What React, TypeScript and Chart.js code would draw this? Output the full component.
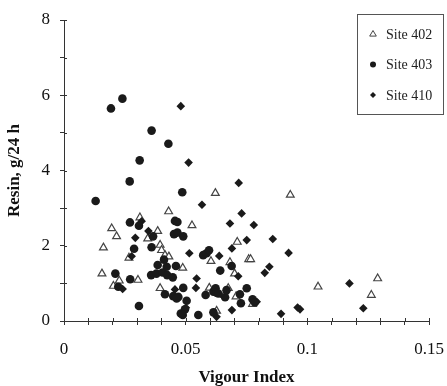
import React, { useEffect, useRef } from "react";
import { Chart, registerables } from "chart.js";

Chart.register(...registerables);

// Vigour index (x) against resin flow, g/24 h (y)
const site402: [number, number][] = [
  [0.0156, 1.26], [0.0162, 1.95], [0.0196, 2.46], [0.0216, 2.25], [0.0203, 0.93],
  [0.0227, 1.07], [0.0267, 1.68], [0.0304, 1.09], [0.0312, 2.75], [0.0344, 2.19],
  [0.0385, 2.39], [0.0395, 2.02], [0.0401, 1.88], [0.0415, 1.75], [0.0431, 1.71],
  [0.043, 2.91], [0.0395, 0.87], [0.0488, 1.41], [0.0526, 2.54], [0.0604, 1.59],
  [0.0622, 3.4], [0.0627, 0.27], [0.0597, 0.88], [0.0659, 0.69], [0.0675, 0.87],
  [0.0682, 1.56], [0.0701, 1.26], [0.0707, 0.65], [0.0712, 2.1], [0.0759, 1.64],
  [0.0767, 1.64], [0.0775, 0.45], [0.093, 3.35], [0.1044, 0.91], [0.1263, 0.69],
  [0.1289, 1.13],
];

const site403: [number, number][] = [
  [0.013, 3.19], [0.0193, 5.65], [0.024, 5.91], [0.027, 3.71], [0.0311, 4.27],
  [0.036, 5.06], [0.0429, 4.71], [0.0486, 3.42], [0.0271, 2.62], [0.0308, 2.53],
  [0.0366, 2.25], [0.0288, 1.92], [0.036, 1.96], [0.0456, 2.66], [0.0466, 2.63],
  [0.0452, 2.31], [0.0466, 2.35], [0.049, 2.25], [0.0411, 1.63], [0.0211, 1.26],
  [0.0223, 0.91], [0.0272, 1.11], [0.0308, 0.4], [0.0358, 1.22], [0.038, 1.26],
  [0.0385, 1.49], [0.0405, 1.29], [0.0424, 1.22], [0.046, 1.46], [0.0447, 1.16],
  [0.0415, 0.71], [0.0449, 0.66], [0.047, 0.64], [0.0463, 0.6], [0.049, 0.88],
  [0.0504, 0.54], [0.0497, 0.31], [0.048, 0.2], [0.0488, 0.16], [0.0552, 0.16],
  [0.0572, 1.75], [0.0586, 1.8], [0.0596, 1.88], [0.0642, 1.34], [0.0689, 1.46],
  [0.0582, 0.69], [0.0614, 0.78], [0.0623, 0.87], [0.0627, 0.75], [0.0634, 0.73],
  [0.0614, 0.23], [0.0662, 0.63], [0.0668, 0.82], [0.0723, 0.71], [0.0727, 0.47],
  [0.0751, 0.87], [0.0775, 0.58], [0.0784, 0.5], [0.0422, 1.44],
];

const site410: [number, number][] = [
  [0.048, 5.71], [0.0512, 4.21], [0.0718, 3.67], [0.0567, 3.09], [0.073, 2.86],
  [0.0682, 2.59], [0.0751, 2.15], [0.078, 2.55], [0.0858, 2.18], [0.0923, 1.81],
  [0.0844, 1.44], [0.0825, 1.28], [0.0319, 2.65], [0.0347, 2.39], [0.0293, 2.21],
  [0.0278, 1.72], [0.0241, 0.85], [0.0515, 1.8], [0.0638, 1.73], [0.069, 1.93],
  [0.0716, 1.19], [0.0545, 1.13], [0.0542, 0.88], [0.0456, 0.84], [0.0501, 0.35],
  [0.0627, 0.11], [0.069, 0.29], [0.0792, 0.51], [0.0892, 0.19], [0.096, 0.36],
  [0.097, 0.31], [0.1173, 1.0], [0.123, 0.34],
];

const seriesNames = ["Site 402", "Site 403", "Site 410"];
const xTickLabels = [0, 0.05, 0.1, 0.15];
const yTickLabels = [0, 2, 4, 6, 8];

const SERIF = "'Liberation Serif', 'Times New Roman', serif";
const INK = "#1a1a1a";

const toPoints = (arr: [number, number][]) => arr.map(([x, y]) => ({ x, y }));

function drawMarker(ctx: CanvasRenderingContext2D, kind: string, x: number, y: number, r: number) {
  ctx.save();
  ctx.beginPath();
  if (kind === "triangle") {
    ctx.moveTo(x, y - r);
    ctx.lineTo(x + r * 0.95, y + r * 0.6);
    ctx.lineTo(x - r * 0.95, y + r * 0.6);
    ctx.closePath();
    ctx.fillStyle = "#fff";
    ctx.fill();
    ctx.strokeStyle = "#444";
    ctx.lineWidth = 1;
    ctx.stroke();
  } else if (kind === "circle") {
    ctx.arc(x, y, r, 0, Math.PI * 2);
    ctx.fillStyle = INK;
    ctx.fill();
  } else {
    ctx.moveTo(x, y - r);
    ctx.lineTo(x + r, y);
    ctx.lineTo(x, y + r);
    ctx.lineTo(x - r, y);
    ctx.closePath();
    ctx.fillStyle = INK;
    ctx.fill();
  }
  ctx.restore();
}

// Short inner tick marks so each tick crosses its axis line
const innerTicks = {
  id: "innerTicks",
  afterDraw(chart: any) {
    const { ctx, chartArea, scales } = chart;
    ctx.save();
    ctx.strokeStyle = "#333";
    ctx.lineWidth = 1;
    for (const t of scales.x.ticks) {
      const px = Math.round(scales.x.getPixelForValue(t.value)) + 0.5;
      ctx.beginPath();
      ctx.moveTo(px, chartArea.bottom);
      ctx.lineTo(px, chartArea.bottom - 3);
      ctx.stroke();
    }
    for (const t of scales.y.ticks) {
      const py = Math.round(scales.y.getPixelForValue(t.value)) + 0.5;
      ctx.beginPath();
      ctx.moveTo(chartArea.left, py);
      ctx.lineTo(chartArea.left + 3, py);
      ctx.stroke();
    }
    ctx.restore();
  },
};

// Boxed legend in the upper-right corner of the plot
const boxLegend = {
  id: "boxLegend",
  afterDraw(chart: any) {
    const { ctx, chartArea } = chart;
    const right = chartArea.right + 14;
    const w = 86;
    const left = right - w;
    const top = chartArea.top - 6;
    const h = 100;
    ctx.save();
    ctx.strokeStyle = "#555";
    ctx.lineWidth = 1;
    ctx.strokeRect(Math.round(left) + 0.5, Math.round(top) + 0.5, w, h);
    const kinds = ["triangle", "circle", "diamond"];
    ctx.font = `14px ${SERIF}`;
    ctx.textBaseline = "middle";
    seriesNames.forEach((name, i) => {
      const cy = top + 21 + i * 30.5;
      drawMarker(ctx, kinds[i], left + 16, cy - 1, kinds[i] === "triangle" ? 3.5 : 3);
      ctx.fillStyle = "#222";
      ctx.fillText(name, left + 29, cy);
    });
    ctx.restore();
  },
};

export default function App() {
  const canvasRef = useRef<HTMLCanvasElement | null>(null);

  useEffect(() => {
    if (!canvasRef.current) return;
    const isLabelX = (v: number) => xTickLabels.some((t) => Math.abs(t - v) < 1e-6);
    const isLabelY = (v: number) => yTickLabels.some((t) => Math.abs(t - v) < 1e-6);

    const chart = new Chart(canvasRef.current, {
      type: "scatter",
      data: {
        datasets: [
          {
            label: seriesNames[1],
            data: toPoints(site403),
            pointStyle: "circle",
            pointRadius: 4.3,
            backgroundColor: INK,
            borderColor: INK,
            borderWidth: 0,
          },
          {
            label: seriesNames[2],
            data: toPoints(site410),
            pointStyle: "rectRot",
            pointRadius: 4.3,
            backgroundColor: INK,
            borderColor: INK,
            borderWidth: 0,
          },
          {
            label: seriesNames[0],
            data: toPoints(site402),
            pointStyle: "triangle",
            pointRadius: 4.5,
            backgroundColor: "#ffffff",
            borderColor: "#444",
            borderWidth: 1.2,
          },
        ],
      },
      options: {
        animation: false,
        responsive: true,
        maintainAspectRatio: false,
        layout: { padding: { top: 20, right: 18, left: 0, bottom: 0 } },
        plugins: {
          legend: { display: false },
          tooltip: { enabled: false },
        },
        scales: {
          x: {
            type: "linear",
            min: 0,
            max: 0.15,
            afterFit: (s: any) => {
              s.height = 65;
              s.paddingLeft = 0;
              s.paddingRight = 0;
            },
            ticks: {
              stepSize: 0.01,
              autoSkip: false,
              maxRotation: 0,
              padding: 14,
              color: "#111",
              font: { family: SERIF, size: 17 },
              callback: (v: any) => (isLabelX(Number(v)) ? String(Math.round(Number(v) * 100) / 100) : ""),
            },
            grid: { drawOnChartArea: false, drawTicks: true, tickLength: 4, color: "#333" },
            border: { display: true, color: "#333", width: 1 },
            title: {
              display: true,
              text: "Vigour Index",
              color: "#111",
              font: { family: SERIF, size: 17, weight: "bold" },
              padding: { top: 0, bottom: -2 },
            },
          },
          y: {
            type: "linear",
            min: 0,
            max: 8,
            afterFit: (s: any) => {
              s.width = 64;
              s.paddingTop = 0;
              s.paddingBottom = 0;
            },
            ticks: {
              stepSize: 1,
              autoSkip: false,
              padding: 10,
              color: "#111",
              font: { family: SERIF, size: 17 },
              callback: (v: any) => (isLabelY(Number(v)) ? String(v) : ""),
            },
            grid: { drawOnChartArea: false, drawTicks: true, tickLength: 4, color: "#333" },
            border: { display: true, color: "#333", width: 1 },
            title: {
              display: true,
              text: "Resin, g/24 h",
              color: "#111",
              font: { family: SERIF, size: 17, weight: "bold" },
              padding: { top: 4, bottom: 4 },
            },
          },
        },
      },
      plugins: [innerTicks, boxLegend],
    });
    return () => chart.destroy();
  }, []);

  return (
    <div style={{ position: "absolute", left: 0, top: 0, width: 447, height: 386, background: "#fff" }}>
      <canvas ref={canvasRef} />
    </div>
  );
}
